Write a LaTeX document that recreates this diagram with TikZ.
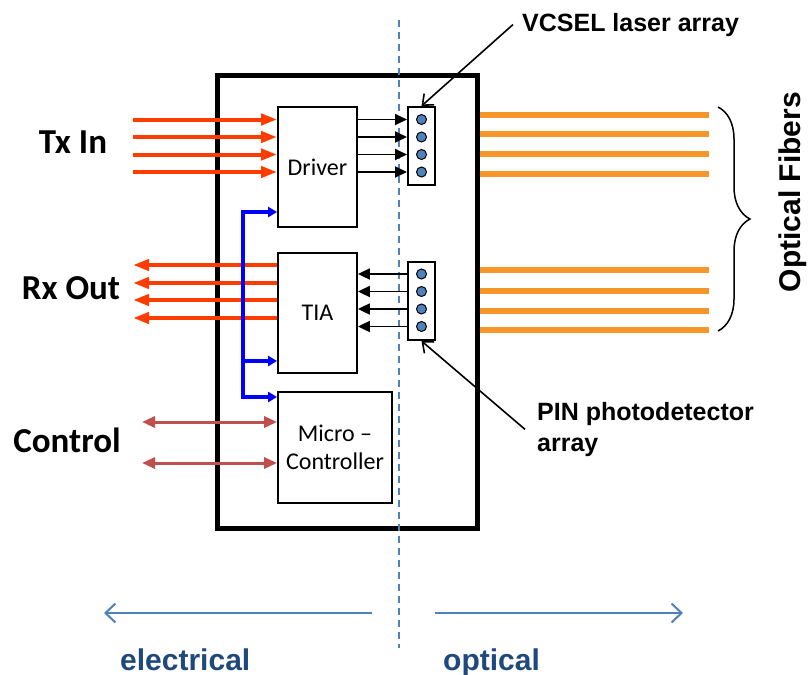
\documentclass[tikz,border=0pt]{standalone}
\usepackage{fontspec}
\setmainfont{Carlito}
\newfontfamily\labelfont{Liberation Sans}
\usepackage{xcolor}
\usepackage{tikz}
\usetikzlibrary{arrows.meta,positioning,decorations.pathreplacing}

\definecolor{sigred}{RGB}{255,60,0}
\definecolor{fiberorange}{RGB}{247,150,40}
\definecolor{ctrlred}{RGB}{192,80,77}
\definecolor{splitblue}{RGB}{79,129,189}
\definecolor{textblue}{RGB}{31,73,125}

\begin{document}
\begin{tikzpicture}[
  x=1pt, y=-1pt,
  block/.style={
    draw,
    line width=1.8pt,
    inner sep=0pt,
    align=center,
    font=\fontsize{24}{28}\selectfont
  },
  chipcol/.style={draw, line width=2pt, minimum width=27pt, minimum height=78pt, inner sep=0pt},
  emitdot/.style={circle, draw, line width=1pt, fill=splitblue, minimum size=10pt, inner sep=0pt},
  biglabel/.style={font=\fontsize{35}{40}\selectfont\bfseries},
  note/.style={font=\labelfont\fontsize{25}{31}\selectfont\bfseries, inner sep=0pt, align=left},
  sidelabel/.style={font=\labelfont\fontsize{30}{36}\selectfont\bfseries, inner sep=0pt, textblue},
  txarrow/.style={-{Triangle[length=16pt,width=11pt]}, line width=4pt, sigred},
  chiparrow/.style={-{Triangle[length=12pt,width=11pt]}, line width=1.8pt},
  bus/.style={line width=4.5pt, blue, line join=miter},
  ctrl/.style={{Triangle[length=13pt,width=11pt]}-{Triangle[length=13pt,width=11pt]}, line width=3pt, ctrlred},
  fiber/.style={line width=6pt, fiberorange},
  pointer/.style={-{Straight Barb[length=9pt,width=15pt]}, line width=1.6pt},
  sidearrow/.style={-{Straight Barb[length=10pt,width=19pt]}, line width=2pt, splitblue}
]
  \useasboundingbox (0,0) rectangle (809,675);

  % fibers leave the module on the right
  \node[minimum width=259pt, minimum height=452pt] (module) at (347.5,302) {};
  \coordinate (fiberend) at (709,0);
  \draw[fiber] (module.east |- 0,115) -- (fiberend |- 0,115);
  \draw[fiber] (module.east |- 0,134) -- (fiberend |- 0,134);
  \draw[fiber] (module.east |- 0,154) -- (fiberend |- 0,154);
  \draw[fiber] (module.east |- 0,174) -- (fiberend |- 0,174);
  \draw[fiber] (module.east |- 0,270) -- (fiberend |- 0,270);
  \draw[fiber] (module.east |- 0,291) -- (fiberend |- 0,291);
  \draw[fiber] (module.east |- 0,311) -- (fiberend |- 0,311);
  \draw[fiber] (module.east |- 0,330) -- (fiberend |- 0,330);
  \draw[line width=5pt] (module.north west) rectangle (module.south east);

  \node[block, minimum width=79pt, minimum height=120pt] (driver) at (317.5,167) {Driver};
  \node[block, minimum width=79pt, minimum height=120pt, below=24pt of driver] (tia) {TIA};
  \node[block, minimum width=114pt, minimum height=111pt, below=17pt of tia.south west, anchor=north west] (mcu) {Micro –\\Controller};

  \node[chipcol] (vcsel) at (421.5,146) {};
  \node[chipcol] (pin) at (421.5,301) {};
  \node[emitdot] (v1) at (421.5,119.5) {};
  \node[emitdot] (v2) at (421.5,137) {};
  \node[emitdot] (v3) at (421.5,154.5) {};
  \node[emitdot] (v4) at (421.5,172) {};
  \node[emitdot] (p1) at (421.5,274) {};
  \node[emitdot] (p2) at (421.5,291.5) {};
  \node[emitdot] (p3) at (421.5,309) {};
  \node[emitdot] (p4) at (421.5,326.5) {};

  % electrical / optical split
  \coordinate (splittop) at (399,20);
  \coordinate (splitbot) at (399,648);
  \draw[splitblue, dash pattern=on 7pt off 5pt, line width=1.6pt] (splittop) -- (splitbot);

  \draw[chiparrow] (driver.east |- v1) -- (vcsel.west |- v1);
  \draw[chiparrow] (driver.east |- v2) -- (vcsel.west |- v2);
  \draw[chiparrow] (driver.east |- v3) -- (vcsel.west |- v3);
  \draw[chiparrow] (driver.east |- v4) -- (vcsel.west |- v4);
  \draw[chiparrow] (pin.west |- p1) -- (tia.east |- p1);
  \draw[chiparrow] (pin.west |- p2) -- (tia.east |- p2);
  \draw[chiparrow] (pin.west |- p3) -- (tia.east |- p3);
  \draw[chiparrow] (pin.west |- p4) -- (tia.east |- p4);

  \node[biglabel] (txin) at (73,142) {Tx In};
  \node[biglabel] (rxout) at (71,288) {Rx Out};
  \node[biglabel] (control) at (67,440) {Control};

  \coordinate (txstart) at (133,0);
  \draw[txarrow] (txstart |- v1) -- (driver.west |- v1);
  \draw[txarrow] (txstart |- v2) -- (driver.west |- v2);
  \draw[txarrow] (txstart |- v3) -- (driver.west |- v3);
  \draw[txarrow] (txstart |- v4) -- (driver.west |- v4);
  \draw[txarrow] (tia.west |- 0,265) -- (txstart |- 0,265);
  \draw[txarrow] (tia.west |- 0,283) -- (txstart |- 0,283);
  \draw[txarrow] (tia.west |- 0,300) -- (txstart |- 0,300);
  \draw[txarrow] (tia.west |- 0,318) -- (txstart |- 0,318);

  \coordinate (ctrlstart) at (142,0);
  \draw[ctrl] (ctrlstart |- 0,422) -- (mcu.west |- 0,422);
  \draw[ctrl] (ctrlstart |- 0,463) -- (mcu.west |- 0,463);

  % control bus
  \coordinate (bustop) at (243,212);
  \coordinate (busmid) at (243,361);
  \coordinate (busbot) at (243,397);
  \draw[bus, {Triangle[length=9pt,width=10pt]}-{Triangle[length=9pt,width=10pt]}]
    (busbot -| mcu.west) -- (busbot) -- (bustop) -- (bustop -| driver.west);
  \draw[bus, -{Triangle[length=9pt,width=10pt]}] (busmid) -- (busmid -| tia.west);

  \coordinate (bracetop) at (718,107);
  \coordinate (bracebot) at (718,331);
  \draw[decorate, decoration={brace, amplitude=32pt}, line width=1.5pt] (bracetop) -- (bracebot);
  \node[font=\labelfont\fontsize{30}{36}\selectfont\bfseries, rotate=90, anchor=base, inner sep=0pt] (fiberlabel) at (800,192) {Optical Fibers};

  \node[note, anchor=base west] (vcsellabel) at (522,31) {VCSEL laser array};
  \node[note, anchor=north west] (pinlabel) at (537,402) {PIN photodetector\\array};
  \draw[pointer] ([xshift=-9pt]vcsellabel.west) -- (vcsel.north);
  \draw[pointer] ([xshift=-12pt]pinlabel.west) -- (pin.south);

  \coordinate (elecstart) at (372,613);
  \coordinate (elecend) at (104,613);
  \coordinate (optstart) at (435,613);
  \coordinate (optend) at (683,613);
  \draw[sidearrow] (elecstart) -- (elecend);
  \draw[sidearrow] (optstart) -- (optend);
  \node[sidelabel, anchor=base west] (electrical) at (120,670) {electrical};
  \node[sidelabel, anchor=base west] (optical) at (443,670) {optical};
\end{tikzpicture}
\end{document}
